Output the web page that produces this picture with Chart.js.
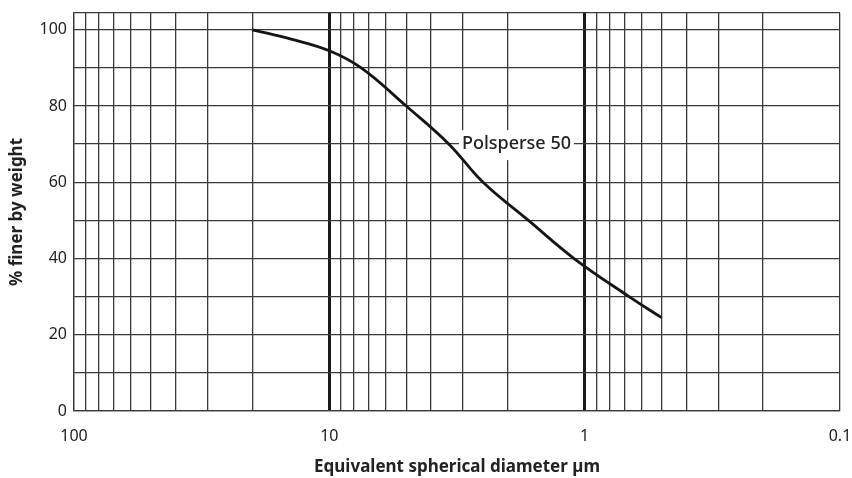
<!DOCTYPE html>
<html>
<head>
<meta charset="utf-8">
<script src="https://cdn.jsdelivr.net/npm/chart.js@4"></script>
<style>
  html, body { margin: 0; padding: 0; background: #fff; }
  #wrap { width: 852px; height: 478px; }
</style>
</head>
<body>
<div id="wrap"><canvas id="psd"></canvas></div>
<script>
// particle size (µm) and % finer by weight
const diameters = [20, 14, 10, 7.5, 5, 3.4, 2.5, 1.66, 1.1, 0.67, 0.5];
const finer     = [100, 97.5, 94.5, 90, 80, 70, 60, 50, 40, 30, 24.5];

// log grid on the x axis, labelled only at the decades
const xGrid = [100, 90, 80, 70, 60, 50, 40, 30, 20,
               10, 9, 8, 7, 6, 5, 4, 3, 2,
               1, 0.9, 0.8, 0.7, 0.6, 0.5, 0.4, 0.3, 0.2, 0.1];
const xTickLabels = [100, 10, 1, 0.1];
const heavyLines = [10, 1];

const yGrid = [0, 10, 20, 30, 40, 50, 60, 70, 80, 90, 100];
const yTickLabels = [0, 20, 40, 60, 80, 100];
const yTop = 104.4;

const seriesLabel = 'Polsperse 50';
const seriesLabelAt = { d: 1.85, y: 70 };

const FONT = '"Noto Sans", "Open Sans", sans-serif';
const INK = '#222';

// white box with the series name sitting on the grid (curve drawn over it)
const labelPlugin = {
    id: 'seriesName',
    beforeDatasetsDraw(chart) {
        const ctx = chart.ctx;
        const px = chart.scales.x.getPixelForValue(seriesLabelAt.d);
        const py = chart.scales.y.getPixelForValue(seriesLabelAt.y);
        ctx.save();
        ctx.font = '500 18px ' + FONT;
        const w = ctx.measureText(seriesLabel).width;
        ctx.fillStyle = '#fff';
        ctx.fillRect(px - w / 2 - 3, py - 14, w + 6, 30);
        ctx.fillStyle = INK;
        ctx.textAlign = 'center';
        ctx.textBaseline = 'middle';
        ctx.fillText(seriesLabel, px, py);
        ctx.restore();
    }
};

new Chart(document.getElementById('psd'), {
    type: 'line',
    data: {
        datasets: [{
            label: seriesLabel,
            data: diameters.map((d, i) => ({ x: d, y: finer[i] })),
            borderColor: '#151515',
            borderWidth: 2.8,
            pointRadius: 0,
            fill: false,
            tension: 0.4
        }]
    },
    options: {
        responsive: true,
        maintainAspectRatio: false,
        animation: false,
        layout: { padding: { top: 13, right: 12, left: 0, bottom: 0 } },
        plugins: {
            legend: { display: false },
            tooltip: { enabled: false }
        },
        scales: {
            x: {
                type: 'logarithmic',
                reverse: true,
                min: 0.1,
                max: 100,
                afterBuildTicks(scale) {
                    scale.ticks = xGrid.map(v => ({ value: v }));
                },
                afterFit(scale) {
                    scale.height = 67;
                    scale.paddingLeft = 0;
                    scale.paddingRight = 0;
                },
                grid: {
                    drawTicks: false,
                    color: ctx => heavyLines.includes(ctx.tick && ctx.tick.value) ? '#1a1a1a' : '#3a3a3a',
                    lineWidth: ctx => heavyLines.includes(ctx.tick && ctx.tick.value) ? 3 : 1.3
                },
                border: { color: '#3a3a3a', width: 1.3 },
                ticks: {
                    autoSkip: false,
                    maxRotation: 0,
                    padding: 16,
                    color: INK,
                    font: { family: FONT, size: 16 },
                    callback: v => xTickLabels.includes(v) ? String(v) : ''
                },
                title: {
                    display: true,
                    text: 'Equivalent spherical diameter µm',
                    color: INK,
                    font: { family: FONT, size: 17, weight: '700' },
                    padding: { top: 0, bottom: 1 }
                }
            },
            y: {
                min: 0,
                max: yTop,
                afterBuildTicks(scale) {
                    scale.ticks = yGrid.concat([yTop]).map(v => ({ value: v }));
                },
                afterFit(scale) {
                    scale.width = 74;
                    scale.paddingTop = 0;
                    scale.paddingBottom = 0;
                },
                grid: {
                    drawTicks: false,
                    color: '#3a3a3a',
                    lineWidth: 1.3
                },
                border: { color: '#3a3a3a', width: 1.3 },
                ticks: {
                    padding: 7,
                    color: INK,
                    font: { family: FONT, size: 16 },
                    callback: v => yTickLabels.includes(v) ? String(v) : ''
                },
                title: {
                    display: true,
                    text: '% finer by weight',
                    color: INK,
                    font: { family: FONT, size: 17, weight: '700' },
                    padding: { top: 7, bottom: 0 }
                }
            }
        }
    },
    plugins: [labelPlugin]
});
</script>
</body>
</html>
